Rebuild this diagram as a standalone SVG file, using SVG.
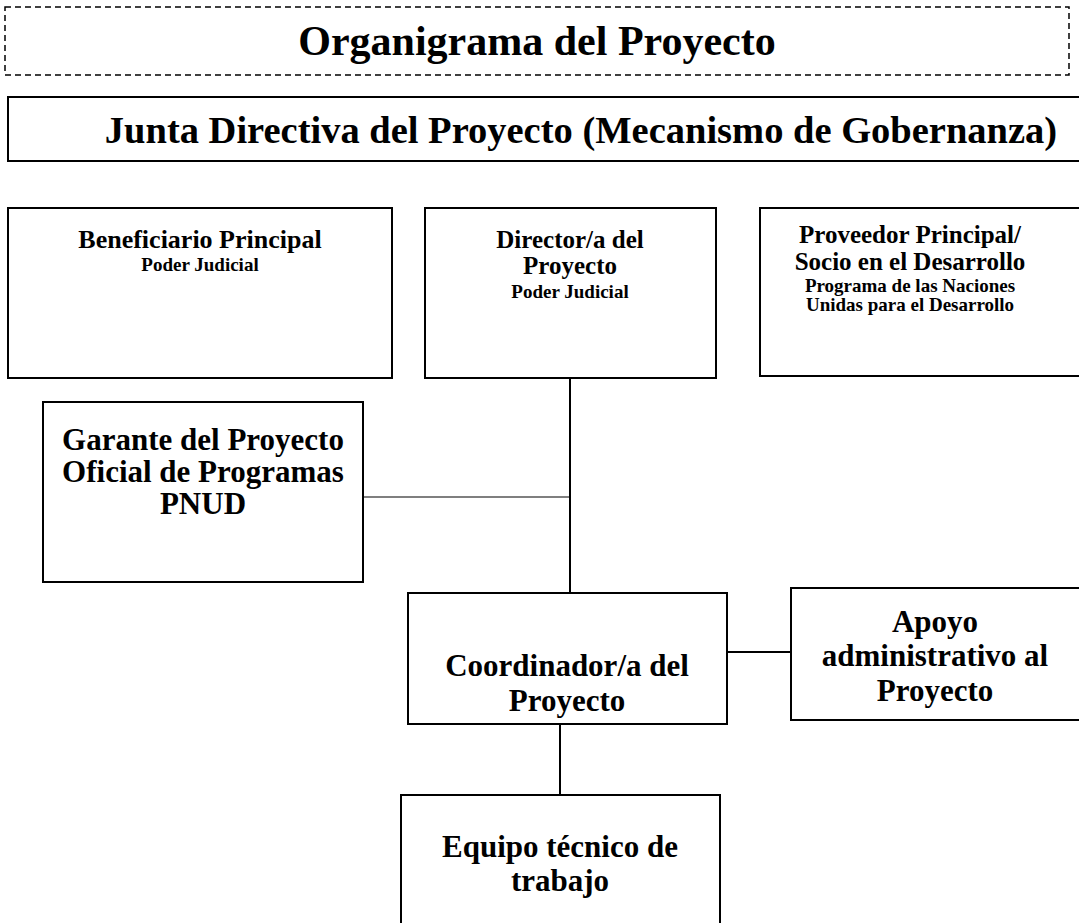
<svg xmlns="http://www.w3.org/2000/svg" width="1079" height="923" viewBox="0 0 1079 923">
<style>
.box{fill:#fff;stroke:#000;stroke-width:2}
.t{font-family:"Liberation Serif","Times New Roman",serif;font-weight:bold;fill:#000;text-anchor:middle}
.h0{font-size:42px}
.h1{font-size:38.5px}
.h2{font-size:31px}
.h3{font-size:26px}
.h4{font-size:25px}
.s{font-size:19px}
.c line{stroke:#000;stroke-width:2}
</style>
<rect width="1079" height="923" fill="#fff"/>
<g id="title">
<rect x="5" y="7" width="1064" height="68" fill="#fff" stroke="#000" stroke-width="1.5" stroke-dasharray="6,4"/>
<text class="t h0" x="537" y="55">Organigrama del Proyecto</text>
</g>
<g id="junta">
<rect class="box" x="8" y="97" width="1080" height="64"/>
<text class="t h1" x="581" y="143">Junta Directiva del Proyecto (Mecanismo de Gobernanza)</text>
</g>
<g id="connectors" class="c">
<line x1="570" y1="378" x2="570" y2="593"/>
<line x1="363" y1="497" x2="570" y2="497" style="stroke-width:1.2"/>
<line x1="727" y1="652" x2="791" y2="652"/>
<line x1="560" y1="724" x2="560" y2="795"/>
</g>
<g id="beneficiario">
<rect class="box" x="8" y="208" width="384" height="170"/>
<text class="t h3" x="200" y="248">Beneficiario Principal</text>
<text class="t s" x="200" y="271">Poder Judicial</text>
</g>
<g id="director">
<rect class="box" x="425" y="208" width="291" height="170"/>
<text class="t h4" x="570" y="248">Director/a del</text>
<text class="t h4" x="570" y="274">Proyecto</text>
<text class="t s" x="570" y="298">Poder Judicial</text>
</g>
<g id="proveedor">
<rect class="box" x="760" y="208" width="330" height="168"/>
<text class="t h4" x="910" y="243">Proveedor Principal/</text>
<text class="t h4" x="910" y="270">Socio en el Desarrollo</text>
<text class="t s" x="910" y="292">Programa de las Naciones</text>
<text class="t s" x="910" y="311">Unidas para el Desarrollo</text>
</g>
<g id="garante">
<rect class="box" x="43" y="402" width="320" height="180"/>
<text class="t h2" x="203" y="450">Garante del Proyecto</text>
<text class="t h2" x="203" y="482">Oficial de Programas</text>
<text class="t h2" x="203" y="514">PNUD</text>
</g>
<g id="coordinador">
<rect class="box" x="408" y="593" width="319" height="131"/>
<text class="t h2" x="567" y="676">Coordinador/a del</text>
<text class="t h2" x="567" y="711">Proyecto</text>
</g>
<g id="apoyo">
<rect class="box" x="791" y="588" width="300" height="132"/>
<text class="t h2" x="935" y="632">Apoyo</text>
<text class="t h2" x="935" y="666">administrativo al</text>
<text class="t h2" x="935" y="701">Proyecto</text>
</g>
<g id="equipo">
<rect class="box" x="401" y="795" width="319" height="140"/>
<text class="t h2" x="560" y="857">Equipo técnico de</text>
<text class="t h2" x="560" y="891">trabajo</text>
</g>
</svg>
